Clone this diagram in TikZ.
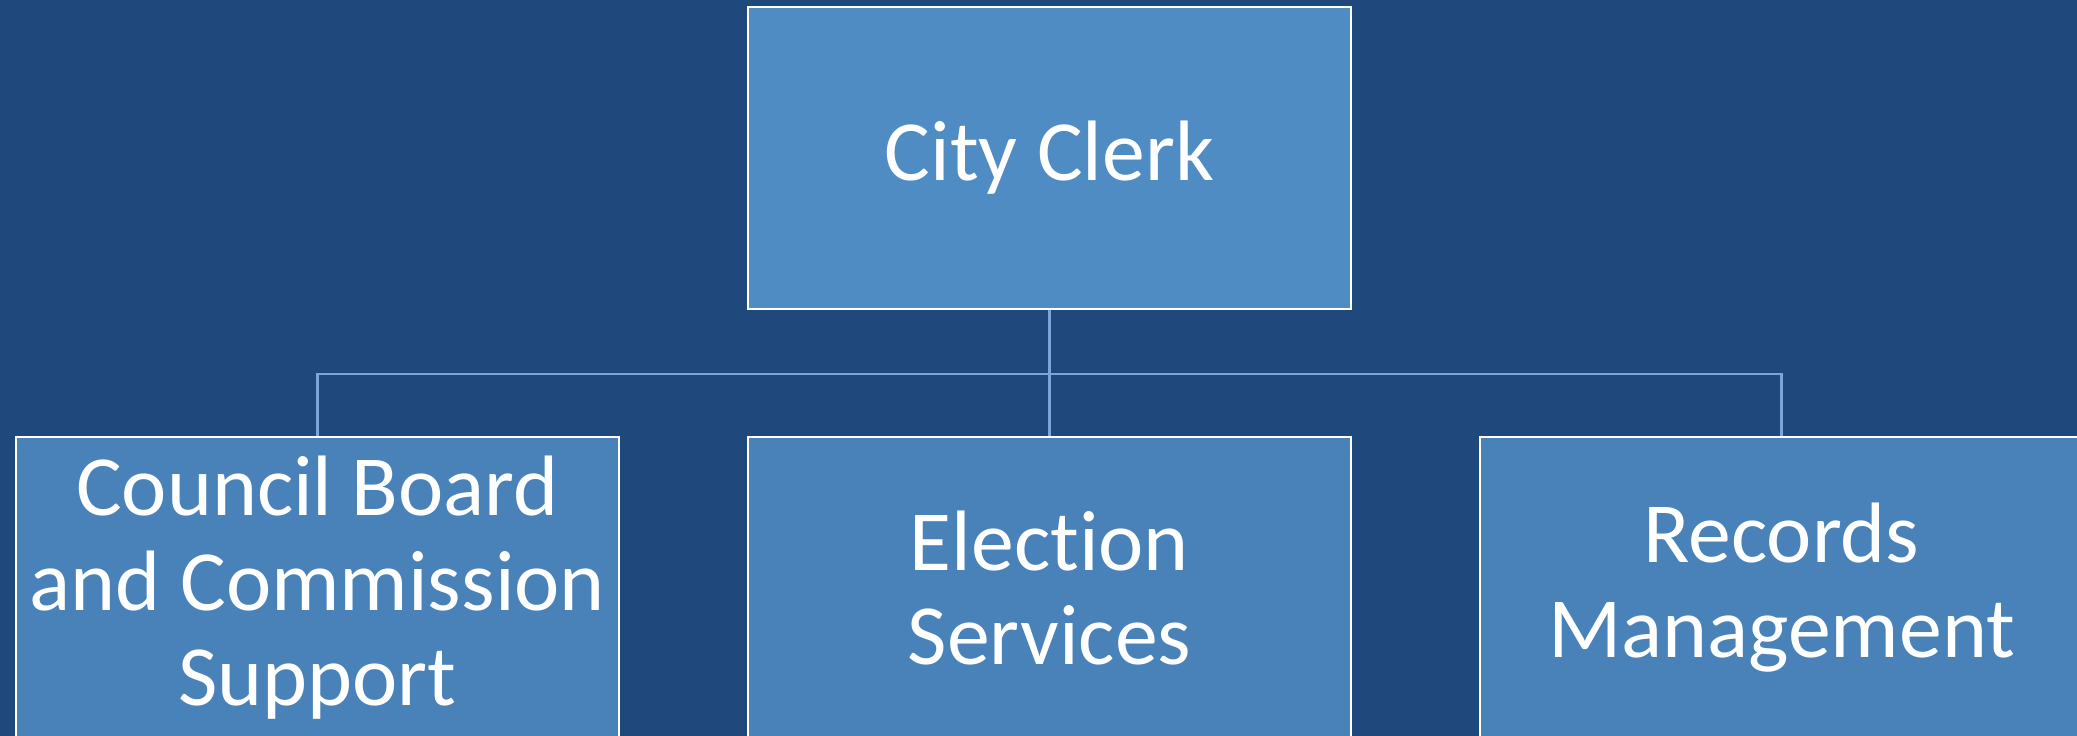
\documentclass[tikz,border=0pt]{standalone}
\usepackage{fontspec}
\setmainfont{Carlito}[RawFeature={-liga}]
\definecolor{bgblue}{RGB}{31,73,125}
\definecolor{topblue}{RGB}{80,140,196}
\definecolor{subblue}{RGB}{72,130,185}
\definecolor{linkblue}{RGB}{125,165,215}
\tikzset{
	unit/.style={draw=white, line width=0.6pt, minimum width=6.03cm, minimum height=3.02cm, inner sep=0pt, align=center, text=white, font=\fontsize{24.4}{27}\selectfont},
	link/.style={draw=linkblue, line width=0.7pt}
}
\begin{document}
\begin{tikzpicture}
		\useasboundingbox (0,0) rectangle (20.77,-7.35);
		\fill[bgblue] (-0.1,0.1) rectangle (20.87,-7.45);

		\node at (10.495, -1.58) (clerk) [unit, fill=topblue] {City Clerk};
		\node at (3.175, -5.88) (council) [unit, fill=subblue] {Council Board\\and Commission\\Support};
		\node at (10.495, -5.88) (election) [unit, fill=subblue] {Election\\Services};
		\node at (17.815, -5.88) (records) [unit, fill=subblue] {Records\\Management};
		\coordinate (bus) at (10.495, -3.74);

		\draw [link](clerk.south) -- (bus);
		\draw [link](bus) -| (council.north);
		\draw [link](bus) -- (election.north);
		\draw [link](bus) -| (records.north);

	\end{tikzpicture}
\end{document}
